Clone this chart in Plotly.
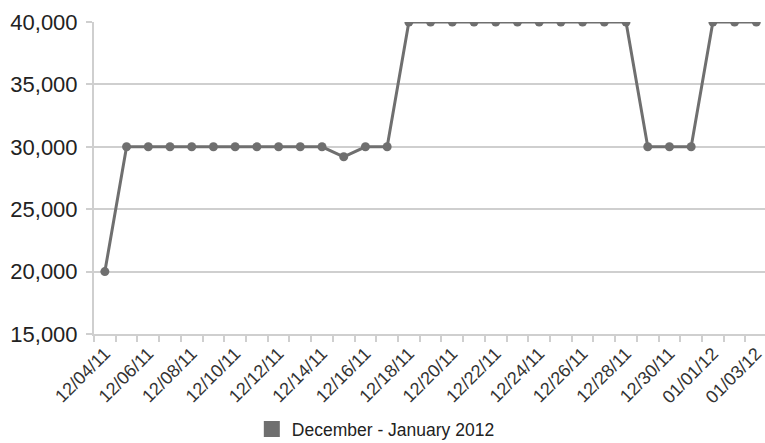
import plotly.graph_objects as go

dates = ["12/04/11", "12/05/11", "12/06/11", "12/07/11", "12/08/11", "12/09/11", "12/10/11",
         "12/11/11", "12/12/11", "12/13/11", "12/14/11", "12/15/11", "12/16/11", "12/17/11",
         "12/18/11", "12/19/11", "12/20/11", "12/21/11", "12/22/11", "12/23/11", "12/24/11",
         "12/25/11", "12/26/11", "12/27/11", "12/28/11", "12/29/11", "12/30/11", "12/31/11",
         "01/01/12", "01/02/12", "01/03/12"]
values = [20000, 30000, 30000, 30000, 30000, 30000, 30000,
          30000, 30000, 30000, 30000, 29200, 30000, 30000,
          40000, 40000, 40000, 40000, 40000, 40000, 40000,
          40000, 40000, 40000, 40000, 30000, 30000, 30000,
          40000, 40000, 40000]
series_name = "December - January 2012"
y_ticks = [15000, 20000, 25000, 30000, 35000, 40000]

tick_text = [d if i % 2 == 0 else "" for i, d in enumerate(dates)]
line_color = "#6f6f6f"
grid_color = "#cfcfcf"

fig = go.Figure()
fig.add_trace(go.Scatter(
    x=dates, y=values, mode="lines+markers",
    line=dict(color=line_color, width=3),
    marker=dict(color=line_color, size=9),
    showlegend=False,
))
fig.add_trace(go.Scatter(
    x=[None], y=[None], mode="markers", name=series_name,
    marker=dict(color=line_color, symbol="square", size=16),
    showlegend=True,
))

fig.update_layout(
    width=765, height=443,
    margin=dict(l=94, r=0, t=22, b=109, autoexpand=False),
    paper_bgcolor="white", plot_bgcolor="white",
    font=dict(family="Liberation Sans, Arial, sans-serif", color="#222"),
    legend=dict(orientation="h", x=0.42, xanchor="center", y=-0.305, yanchor="middle",
                font=dict(size=17.5, color="#222"), itemwidth=30),
)
fig.update_xaxes(
    type="category", range=[-0.5, 30.4], automargin=False,
    tickmode="array", tickvals=dates, ticktext=tick_text,
    tickson="boundaries", ticks="outside", ticklen=6, tickcolor=grid_color, tickwidth=2,
    tickangle=-45, tickfont=dict(size=18, color="#333"),
    showgrid=False, showline=True, linecolor=grid_color, linewidth=2,
)
fig.update_yaxes(
    range=[15000, 40000], tickvals=y_ticks, tickformat=",d", automargin=False,
    tickfont=dict(size=22, color="#222"),
    showgrid=True, gridcolor=grid_color, gridwidth=2,
    ticks="outside", ticklen=6, tickcolor=grid_color, tickwidth=2,
    showline=True, linecolor=grid_color, linewidth=2,
    ticklabelstandoff=4, zeroline=False,
)

fig.write_html("out.html")
